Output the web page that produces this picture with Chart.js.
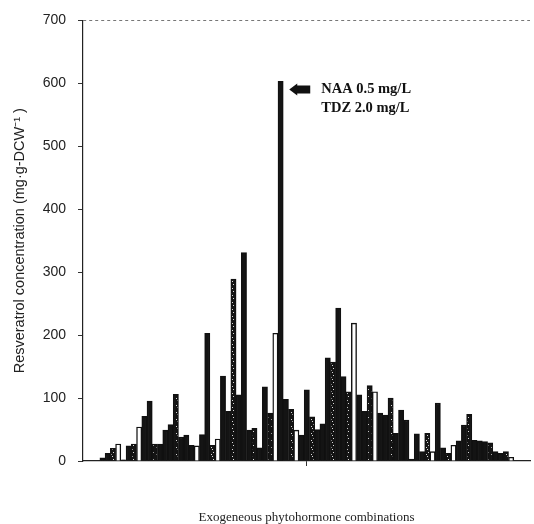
<!DOCTYPE html>
<html>
<head>
<meta charset="utf-8">
<script src="https://cdn.jsdelivr.net/npm/chart.js@4.4.1/dist/chart.umd.min.js"></script>
<style>
  html, body { margin: 0; padding: 0; background: #fff; }
  #wrap { width: 534px; height: 524px; }
</style>
</head>
<body>
<div id="wrap"><canvas id="resveratrolChart"></canvas></div>
<script>
// resveratrol per phytohormone combination, read left to right
const concentration = [
  5, 12, 20, 27, 2, 24, 27, 54, 71, 95,
  27, 27, 49, 58, 106, 38, 41, 25, 24, 42,
  203, 25, 35, 135, 79, 289, 105, 331, 49, 52,
  21, 118, 76, 203, 603, 98, 82, 49, 41, 113,
  70, 50, 59, 164, 157, 243, 134, 110, 219, 105,
  79, 120, 110, 76, 73, 100, 44, 81, 65, 3,
  43, 15, 44, 15, 92, 21, 12, 25, 32, 57,
  74, 33, 32, 31, 29, 15, 12, 15, 6
];
// bar fill kind: b = solid black, w = open, s = speckled
const barKind = [
  'b', 'b', 's', 'w', 'b', 'b', 's', 'w', 'b', 'b',
  's', 'b', 'b', 'b', 's', 'b', 'b', 'b', 'w', 'b',
  'b', 's', 'w', 'b', 'b', 's', 'b', 'b', 'b', 's',
  'b', 'b', 's', 'w', 'b', 'b', 's', 'w', 'b', 'b',
  's', 'b', 'b', 'b', 's', 'b', 'b', 's', 'w', 'b',
  'b', 's', 'w', 'b', 'b', 's', 'b', 'b', 'b', 'b',
  'b', 'b', 's', 'w', 'b', 'b', 's', 'w', 'b', 'b',
  's', 'b', 'b', 'b', 's', 'b', 'b', 's', 'w'
];
const yTicks = [0, 100, 200, 300, 400, 500, 600, 700];
const noteLines = ['NAA 0.5 mg/L', 'TDZ 2.0 mg/L'];

Chart.defaults.font.family = '"Liberation Sans", Arial, sans-serif';
Chart.defaults.color = '#222';

const canvas = document.getElementById('resveratrolChart');
const ctx = canvas.getContext('2d');

function speckle() {
  const c = document.createElement('canvas');
  c.width = 5; c.height = 7;
  const g = c.getContext('2d');
  g.fillStyle = '#141414';
  g.fillRect(0, 0, 5, 7);
  g.fillStyle = '#d8d8d8';
  g.fillRect(2, 1, 1, 1);
  g.fillRect(3, 4, 1, 1);
  g.fillRect(1, 6, 1, 1);
  return ctx.createPattern(c, 'repeat');
}
const dots = speckle();
const fillFor = k => k === 'w' ? '#ffffff' : (k === 's' ? dots : '#141414');

// arrow + label pointing at the tallest bar
const peakNote = {
  id: 'peakNote',
  afterDatasetsDraw(chart) {
    const peak = concentration.indexOf(Math.max(...concentration));
    const bar = chart.getDatasetMeta(0).data[peak];
    const c = chart.ctx;
    const tipX = bar.x + bar.width / 2 + 6;
    const midY = bar.y + 8;
    c.save();
    c.fillStyle = '#111';
    c.beginPath();
    c.moveTo(tipX, midY);
    c.lineTo(tipX + 8, midY - 6);
    c.lineTo(tipX + 8, midY - 4);
    c.lineTo(tipX + 21, midY - 4);
    c.lineTo(tipX + 21, midY + 4);
    c.lineTo(tipX + 8, midY + 4);
    c.lineTo(tipX + 8, midY + 6);
    c.closePath();
    c.fill();
    c.font = 'bold 14.5px "Liberation Serif", "Times New Roman", serif';
    c.textBaseline = 'middle';
    c.fillText(noteLines[0], tipX + 32, midY);
    c.fillText(noteLines[1], tipX + 32, midY + 19);
    c.restore();
  }
};

new Chart(ctx, {
  type: 'bar',
  data: {
    datasets: [{
      data: concentration.map((v, i) => ({ x: i + 1, y: v })),
      backgroundColor: barKind.map(fillFor),
      borderColor: '#111',
      borderWidth: 1.4,
      barPercentage: 1,
      categoryPercentage: 1
    }]
  },
  options: {
    responsive: true,
    maintainAspectRatio: false,
    animation: false,
    layout: { padding: { left: 0, right: 4, top: 12, bottom: 0 } },
    plugins: {
      legend: { display: false },
      tooltip: { enabled: false }
    },
    scales: {
      x: {
        type: 'linear',
        offset: false,
        min: -2.72,
        max: 82.6,
        afterBuildTicks: s => { s.ticks = [{ value: (s.min + s.max) / 2 }]; },
        afterFit: s => { s.height = 63; },
        ticks: { display: false },
        grid: { offset: false, drawOnChartArea: false, drawTicks: true, tickLength: 5, tickColor: '#333' },
        border: { color: '#222', width: 1.2 },
        title: {
          display: true,
          text: 'Exogeneous phytohormone combinations',
          font: { family: '"Liberation Serif", "Times New Roman", serif', size: 13, lineHeight: 1 },
          color: '#222',
          padding: { top: 0, bottom: 0 }
        }
      },
      y: {
        min: 0,
        max: 700,
        afterBuildTicks: s => { s.ticks = yTicks.map(v => ({ value: v })); },
        afterFit: s => { s.width = 83; },
        ticks: { font: { size: 14 }, color: '#222', padding: 12 },
        grid: {
          color: c => c.tick && c.tick.value === 700 ? '#777' : 'transparent',
          tickColor: '#333',
          tickLength: 5,
          lineWidth: 1
        },
        border: { color: '#222', width: 1.2, dash: [3, 3] },
        title: {
          display: true,
          text: 'Resveratrol concentration (mg·g-DCW⁻¹ )',
          font: { size: 14.5 },
          color: '#222',
          padding: { top: 11, bottom: 0 }
        }
      }
    }
  },
  plugins: [peakNote]
});
</script>
</body>
</html>
